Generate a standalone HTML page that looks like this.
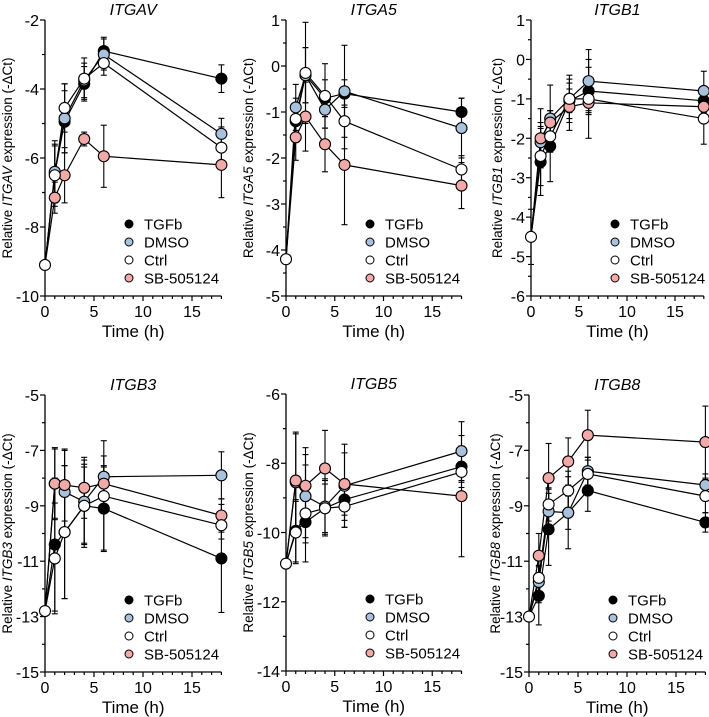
<!DOCTYPE html>
<html><head><meta charset="utf-8">
<style>
html,body{margin:0;padding:0;background:#fff;}
svg{display:block;font-family:"Liberation Sans",Arial,sans-serif;}
</style></head>
<body>
<svg id="fig" width="709" height="717" viewBox="0 0 709 717" xmlns="http://www.w3.org/2000/svg"></svg>
<script>
const times = [0, 1, 2, 4, 6, 18];
const seriesNames = ["TGFb", "DMSO", "Ctrl", "SB-505124"];
const genes = ["ITGAV", "ITGA5", "ITGB1", "ITGB3", "ITGB5", "ITGB8"];

const itgavTGFb = [-9.1, -6.45, -4.95, -3.85, -2.9, -3.7];
const itgavDMSO = [-9.1, -6.4, -4.85, -3.75, -3.0, -5.3];
const itgavCtrl = [-9.1, -6.5, -4.55, -3.7, -3.25, -5.7];
const itgavSB = [-9.1, -7.15, -6.5, -5.45, -5.95, -6.2];
const itgavErrTGFb = [0, 0.8, 0.9, 0.5, 0.4, 0.4];
const itgavErrDMSO = [0, 0.9, 1.0, 0.5, 0.45, 0.45];
const itgavErrCtrl = [0, 0.9, 0.7, 0.6, 0.35, 0.6];
const itgavErrSB = [0, 0.45, 0.8, 0.2, 0.9, 0.95];

const itga5TGFb = [-4.2, -1.2, -0.2, -0.7, -0.6, -1.0];
const itga5DMSO = [-4.2, -0.9, -0.2, -0.95, -0.55, -1.35];
const itga5Ctrl = [-4.2, -1.15, -0.15, -0.65, -1.2, -2.25];
const itga5SB = [-4.2, -1.55, -1.1, -1.7, -2.15, -2.6];
const itga5ErrTGFb = [0, 0.3, 0.6, 0.4, 0.3, 0.3];
const itga5ErrDMSO = [0, 0.5, 0.6, 0.4, 1.0, 0.65];
const itga5ErrCtrl = [0, 0.45, 1.1, 0.7, 0.6, 0.3];
const itga5ErrSB = [0, 0.5, 0.75, 0.6, 1.3, 0.5];

const itgb1TGFb = [-4.5, -2.6, -2.2, -1.05, -0.8, -1.05];
const itgb1DMSO = [-4.5, -2.1, -1.5, -1.0, -0.55, -0.8];
const itgb1Ctrl = [-4.5, -2.45, -1.95, -1.0, -1.0, -1.5];
const itgb1SB = [-4.5, -2.0, -1.6, -1.2, -1.1, -1.2];
const itgb1ErrTGFb = [0, 0.85, 0.9, 0.3, 0.6, 0.3];
const itgb1ErrDMSO = [0, 0.5, 0.85, 0.5, 0.8, 0.5];
const itgb1ErrCtrl = [0.7, 0.75, 0.4, 0.6, 1.0, 0.65];
const itgb1ErrSB = [0, 0.75, 0.3, 0.6, 0.2, 0.3];

const itgb3TGFb = [-12.8, -10.4, -9.95, -9.0, -9.1, -10.9];
const itgb3DMSO = [-12.8, -8.2, -8.5, -8.85, -7.95, -7.9];
const itgb3Ctrl = [-12.8, -10.9, -9.95, -9.0, -8.65, -9.7];
const itgb3SB = [-12.8, -8.2, -8.25, -8.35, -8.2, -9.35];
const itgb3ErrTGFb = [0, 2.4, 2.4, 1.4, 1.5, 1.95];
const itgb3ErrDMSO = [0, 1.3, 1.5, 1.5, 0.4, 0.85];
const itgb3ErrCtrl = [0, 2.0, 2.4, 1.5, 2.0, 0.5];
const itgb3ErrSB = [0, 1.25, 1.3, 1.1, 1.0, 0.6];

const itgb5TGFb = [-10.9, -9.95, -9.7, -9.3, -9.05, -8.1];
const itgb5DMSO = [-10.9, -8.55, -8.95, -9.25, -8.65, -7.65];
const itgb5Ctrl = [-10.9, -10.0, -9.45, -9.3, -9.25, -8.25];
const itgb5SB = [-10.9, -8.5, -8.65, -8.15, -8.6, -8.95];
const itgb5ErrTGFb = [0, 0.9, 0.6, 0.8, 0.6, 0.6];
const itgb5ErrDMSO = [0, 1.4, 1.2, 0.8, 1.2, 0.85];
const itgb5ErrCtrl = [0, 0.9, 1.4, 0.7, 0.6, 0.3];
const itgb5ErrSB = [0, 1.4, 1.1, 1.1, 0.9, 1.75];

const itgb8TGFb = [-13.0, -12.25, -9.85, -9.25, -8.45, -9.6];
const itgb8DMSO = [-13.0, -11.75, -9.2, -9.25, -7.75, -8.25];
const itgb8Ctrl = [-13.0, -11.6, -8.95, -8.45, -7.85, -8.65];
const itgb8SB = [-13.0, -10.8, -8.0, -7.4, -6.45, -6.7];
const itgb8ErrTGFb = [0, 1.05, 1.3, 1.3, 0.75, 0.35];
const itgb8ErrDMSO = [0, 0.6, 0.8, 0.6, 0.5, 0.4];
const itgb8ErrCtrl = [0, 0.9, 0.6, 0.7, 0.6, 0.6];
const itgb8ErrSB = [0, 0.8, 1.25, 0.85, 0.9, 1.3];

const yMin = [-10, -5, -6, -15, -14, -15];
const yMax = [-2, 1, 1, -5, -6, -5];
const yMajor = [2, 1, 1, 2, 2, 2];
const xTickLabels = [0, 5, 10, 15];

const NS = "http://www.w3.org/2000/svg";
const fig = document.getElementById("fig");
const colors = ["#000000", "#a8c2de", "#ffffff", "#f2aaa8"];
const allVals = [
 [itgavTGFb, itgavDMSO, itgavCtrl, itgavSB],
 [itga5TGFb, itga5DMSO, itga5Ctrl, itga5SB],
 [itgb1TGFb, itgb1DMSO, itgb1Ctrl, itgb1SB],
 [itgb3TGFb, itgb3DMSO, itgb3Ctrl, itgb3SB],
 [itgb5TGFb, itgb5DMSO, itgb5Ctrl, itgb5SB],
 [itgb8TGFb, itgb8DMSO, itgb8Ctrl, itgb8SB]];
const allErrs = [
 [itgavErrTGFb, itgavErrDMSO, itgavErrCtrl, itgavErrSB],
 [itga5ErrTGFb, itga5ErrDMSO, itga5ErrCtrl, itga5ErrSB],
 [itgb1ErrTGFb, itgb1ErrDMSO, itgb1ErrCtrl, itgb1ErrSB],
 [itgb3ErrTGFb, itgb3ErrDMSO, itgb3ErrCtrl, itgb3ErrSB],
 [itgb5ErrTGFb, itgb5ErrDMSO, itgb5ErrCtrl, itgb5ErrSB],
 [itgb8ErrTGFb, itgb8ErrDMSO, itgb8ErrCtrl, itgb8ErrSB]];
const layout = [
 {ox:45, top:20, bot:296, ul:9.8, ytx:12},
 {ox:286, top:20, bot:296, ul:9.75, ytx:253},
 {ox:531, top:20, bot:296, ul:9.6, ytx:502},
 {ox:45, top:395, bot:672, ul:9.8, ytx:12},
 {ox:286, top:394, bot:671, ul:9.75, ytx:253},
 {ox:529, top:395, bot:672, ul:9.8, ytx:500}];

function mk(tag, attrs, parent, text){
  const e = document.createElementNS(NS, tag);
  for (const k in attrs) e.setAttribute(k, attrs[k]);
  if (text !== undefined) e.textContent = text;
  (parent||fig).appendChild(e);
  return e;
}

for (let p = 0; p < 6; p++){
  const L = layout[p];
  const g = mk("g", {});
  
  
  const xs = v => L.ox + v * L.ul;
  const ys = v => L.bot - (v - yMin[p]) / (yMax[p] - yMin[p]) * (L.bot - L.top);
  const xEnd = xs(18);
  const t = mk("text", {x:(L.ox + xEnd)/2, y:L.top - 5, "text-anchor":"middle", "font-size":"16", "font-style":"italic"}, g, genes[p]);
  
  
  const ya = mk("line", {x1:L.ox, y1:L.top, x2:L.ox, y2:L.bot, stroke:"#000", "stroke-width":1.3}, g);
  
  
  const step = yMajor[p];
  for (let v = yMin[p]; v <= yMax[p] + 1e-9; v += step/2){
    const major = Math.abs(((v - yMin[p]) / step) - Math.round((v - yMin[p]) / step)) < 1e-6;
    mk("line", {x1:L.ox - (major?5:3), y1:ys(v), x2:L.ox, y2:ys(v), stroke:"#000", "stroke-width":1.2}, g);
    if (major){
      const tl = mk("text", {x:L.ox - 6, y:ys(v) + 6, "text-anchor":"end", "font-size":"16"}, g, String(v));
      
      
    }
  }
  const xa = mk("line", {x1:L.ox, y1:L.bot, x2:xEnd, y2:L.bot, stroke:"#000", "stroke-width":1.3}, g);
  
  
  for (let v = 0; v <= 18; v++){
    const major = v % 5 === 0;
    mk("line", {x1:xs(v), y1:L.bot, x2:xs(v), y2:L.bot + (major?5:3), stroke:"#000", "stroke-width":1.2}, g);
  }
  xTickLabels.forEach(v => {
    const tl = mk("text", {x:xs(v), y:L.bot + 21, "text-anchor":"middle", "font-size":"16"}, g, String(v));
    
    
  });
  const xt = mk("text", {x:(L.ox + xEnd)/2, y:L.bot + 41, "text-anchor":"middle", "font-size":"17"}, g, "Time (h)");
  
  
  const cy = (L.top + L.bot)/2;
  const yt = mk("text", {x:L.ytx, y:cy, "text-anchor":"middle", "font-size":"13.5", transform:"rotate(-90 " + L.ytx + " " + cy + ")"}, g);
  
  
  mk("tspan", {}, yt, "Relative ");
  mk("tspan", {"font-style":"italic"}, yt, genes[p]);
  mk("tspan", {}, yt, " expression (-\u0394Ct)");
  const order = [0, 1, 3, 2];
  order.forEach(s => {
    const vals = allVals[p][s], errs = allErrs[p][s];
    const pts = times.map((tt, i) => xs(tt) + "," + ys(vals[i])).join(" ");
    const pl = mk("polyline", {points:pts, fill:"none", stroke:"#000", "stroke-width":1.2}, g);
    
    
    times.forEach((tt, i) => {
      if (errs[i] > 0){
        const x = xs(tt), y1 = ys(vals[i] - errs[i]), y2 = ys(vals[i] + errs[i]);
        mk("line", {x1:x, y1:y1, x2:x, y2:y2, stroke:"#000", "stroke-width":1.1}, g);
        mk("line", {x1:x-3, y1:y1, x2:x+3, y2:y1, stroke:"#000", "stroke-width":1.1}, g);
        mk("line", {x1:x-3, y1:y2, x2:x+3, y2:y2, stroke:"#000", "stroke-width":1.1}, g);
      }
    });
  });
  order.forEach(s => {
    const vals = allVals[p][s];
    times.forEach((tt, i) => {
      if (i === 0 && s !== 2) return;
      const c = mk("circle", {cx:xs(tt), cy:ys(vals[i]), r:5.5, fill:colors[s], stroke:"#000", "stroke-width":1.1}, g);
      
      
    });
  });
  const lg = mk("g", {}, g);
  
  
  seriesNames.forEach((nm, s) => {
    const ly = L.bot - 72 + s * 18;
    const e = mk("g", {}, lg);
    
    
    mk("circle", {cx:L.ox + 84, cy:ly, r:4, fill:colors[s], stroke:"#000", "stroke-width":1}, e);
    mk("text", {x:L.ox + 99, y:ly + 5.5, "font-size":"15"}, e, nm);
  });
}
</script>
</body></html>
